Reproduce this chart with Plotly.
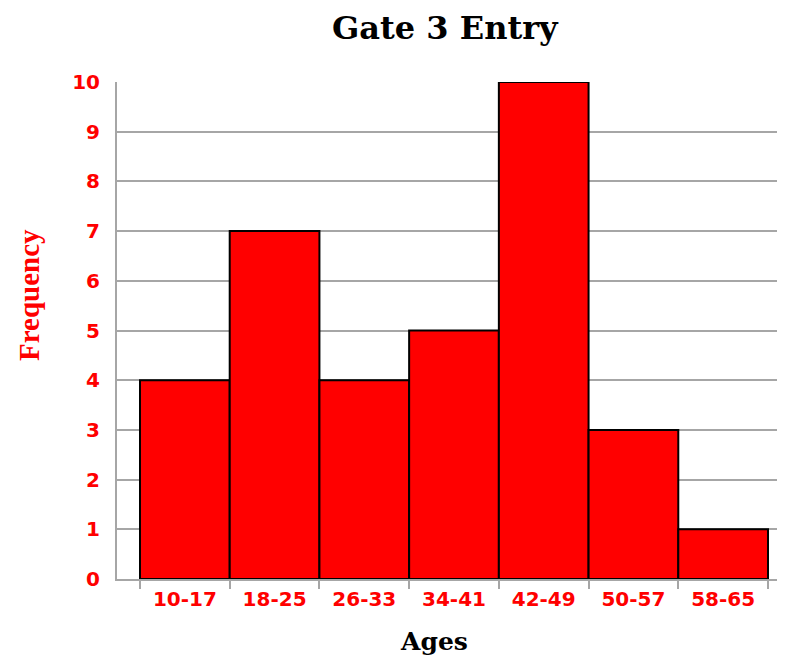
import plotly.graph_objects as go

age_groups = ["10-17", "18-25", "26-33", "34-41", "42-49", "50-57", "58-65"]
frequency = [4, 7, 4, 5, 10, 3, 1]
y_ticks = list(range(0, 11))

# page body has an 8px margin; place figure so the plot lands where the reference has it
OFF = 8
W, H = 785, 664 - OFF
L, R, T, B = 117 - OFF, 0, 82 - OFF, 664 - 579
pw = W - L - R
ph = H - T - B
plot_right = OFF + W - R

def px(x):
    return (x - OFF - L) / pw

def py(y):
    return (H - B - (y - OFF)) / ph

positions = list(range(len(age_groups)))
unit = (768 - 140) / len(age_groups)
x_lo = -0.5 - (140 - 117) / unit
x_hi = len(age_groups) - 0.5 + (plot_right - 768) / unit

fig = go.Figure(go.Bar(
    x=positions,
    y=frequency,
    width=1,
    marker=dict(color="#ff0000", line=dict(color="#000000", width=2)),
))

grid = "#a6a6a6"
fig.update_layout(
    width=W, height=H,
    margin=dict(l=L, r=R, t=T, b=B),
    paper_bgcolor="white", plot_bgcolor="white",
    showlegend=False,
    xaxis=dict(
        range=[x_lo, x_hi],
        tickmode="array", tickvals=positions, ticktext=age_groups,
        ticks="", showgrid=False, zeroline=False,
        showline=True, linecolor=grid, linewidth=2,
        tickfont=dict(family="DejaVu Sans", size=20, color="#ff0000", weight="bold"),
        ticklabelstandoff=1,
        minor=dict(tickmode="array",
                   tickvals=[p - 0.5 for p in positions] + [positions[-1] + 0.5],
                   ticks="outside", ticklen=8, tickwidth=2, tickcolor=grid,
                   showgrid=False),
    ),
    yaxis=dict(
        range=[0, 10],
        tickmode="array", tickvals=y_ticks, ticktext=[str(v) for v in y_ticks],
        ticks="", showgrid=True, gridcolor=grid, gridwidth=2,
        zeroline=False, showline=True, linecolor=grid, linewidth=2,
        tickfont=dict(family="DejaVu Sans", size=20, color="#ff0000", weight="bold"),
        ticklabelstandoff=11,
    ),
    annotations=[
        dict(text="Gate 3 Entry", xref="paper", yref="paper",
             x=px(445), y=py(28), xanchor="center", yanchor="middle",
             showarrow=False,
             font=dict(family="DejaVu Serif", size=32, color="#000000", weight="bold")),
        dict(text="Ages", xref="paper", yref="paper",
             x=px(434), y=py(641), xanchor="center", yanchor="middle",
             showarrow=False,
             font=dict(family="DejaVu Serif", size=25, color="#000000", weight="bold")),
        dict(text="Frequency", xref="paper", yref="paper",
             x=px(29), y=py(295), xanchor="center", yanchor="middle",
             showarrow=False, textangle=-90,
             font=dict(family="Liberation Serif", size=29, color="#ff0000", weight="bold")),
    ],
)

fig.write_html("out.html")
